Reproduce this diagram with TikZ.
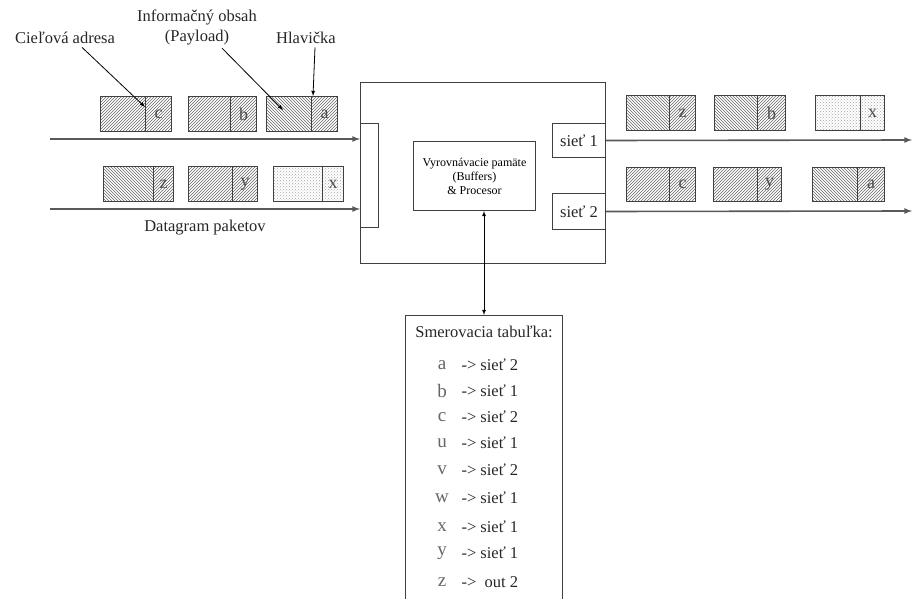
\documentclass[tikz,border=0pt]{standalone}
\usepackage{fontspec}
\setmainfont{Liberation Serif}
\usetikzlibrary{patterns}
\usetikzlibrary{shapes.geometric, arrows}

\tikzset{
  box/.style={draw=black!75, line width=1pt, inner sep=0pt, anchor=north west},
  pay/.style={box, minimum height=35pt},
  hdr/.style={box, minimum height=35pt, text=black!70, font=\fontsize{18}{18}\selectfont},
  rhatch/.style={pattern=north east lines, pattern color=black!60},
  lhatch/.style={pattern=north west lines, pattern color=black!60},
  dhatch/.style={pattern=crosshatch dots, pattern color=black!35},
  wire/.style={draw=black!65, line width=1.6pt},
  lbl/.style={font=\fontsize{16.5}{20}\selectfont, text=black!85},
  rowl/.style={font=\fontsize{19}{19}\selectfont, text=black!60},
  rowr/.style={font=\fontsize{16.5}{19}\selectfont, text=black!85, anchor=west},
}

\begin{document}
\begin{tikzpicture}[x=1pt,y=-1pt]
\path[use as bounding box, clip] (0,0) rectangle (915,599);

% labels above the incoming packets
\node[lbl] (cil) at (65,38) {Cieľová adresa};
\node[lbl, align=center] (obs) at (197,27) {Informačný obsah\\(Payload)};
\node[lbl] (hla) at (306,38) {Hlavička};
\node[lbl] (dgr) at (205,228) {Datagram paketov};

% incoming packets
\node[pay, rhatch, minimum width=45pt] (iCp) at (100,96) {};
\node[hdr, rhatch, minimum width=26pt] (iCh) at (145,96) {c};
\node[pay, rhatch, minimum width=42pt] (iBp) at (188,96) {};
\node[hdr, rhatch, minimum width=26pt] (iBh) at (230,96) {b};
\node[pay, lhatch, minimum width=45pt] (iAp) at (266,96) {};
\node[hdr, rhatch, minimum width=26pt] (iAh) at (311,96) {a};
\node[pay, lhatch, minimum width=50pt] (iZp) at (103,166) {};
\node[hdr, rhatch, minimum width=20pt] (iZh) at (153,166) {z};
\node[pay, rhatch, minimum width=44pt] (iYp) at (188,166) {};
\node[hdr, rhatch, minimum width=25pt] (iYh) at (232,166) {y};
\node[pay, dhatch, minimum width=49pt] (iXp) at (273,166) {};
\node[hdr, dhatch, minimum width=21pt] (iXh) at (322,166) {x};

% router
\node[box, minimum width=245pt, minimum height=181pt] (rtr) at (360,82) {};
\node[box, fill=white, minimum width=18pt, minimum height=104pt] (buf) at (360,123) {};
\node[box, minimum width=122pt, minimum height=69pt, align=center,
      font=\fontsize{12}{14}\selectfont] (proc) at (413,141)
      {Vyrovnávacie pamäte\\(Buffers)\\\& Procesor};
\node[box, fill=white, minimum width=53pt, minimum height=34pt, lbl] (s1) at (552,123) {sieť 1};
\node[box, fill=white, minimum width=53pt, minimum height=36pt, lbl] (s2) at (552,193) {sieť 2};

% outgoing packets
\node[pay, lhatch, minimum width=43pt] (oZp) at (626,95) {};
\node[hdr, rhatch, minimum width=26pt] (oZh) at (669,95) {z};
\node[pay, lhatch, minimum width=43pt] (oBp) at (714,95) {};
\node[hdr, rhatch, minimum width=28pt] (oBh) at (757,95) {b};
\node[pay, dhatch, minimum width=45pt] (oXp) at (815,95) {};
\node[hdr, dhatch, minimum width=24pt] (oXh) at (860,95) {x};
\node[pay, rhatch, minimum width=43pt, minimum height=34pt] (oCp) at (626,167) {};
\node[hdr, rhatch, minimum width=26pt, minimum height=34pt] (oCh) at (669,167) {c};
\node[pay, rhatch, minimum width=44pt, minimum height=34pt] (oYp) at (713,167) {};
\node[hdr, rhatch, minimum width=24pt, minimum height=34pt] (oYh) at (757,167) {y};
\node[pay, lhatch, minimum width=45pt, minimum height=34pt] (oAp) at (812,167) {};
\node[hdr, rhatch, minimum width=27pt, minimum height=34pt] (oAh) at (857,167) {a};

% routing table
\node[box, minimum width=157pt, minimum height=300pt] (tab) at (405,315) {};
\node[lbl] (ttl) at (484,332) {Smerovacia tabuľka:};
\node[rowl] (tA) at (442,365) {a};
\node[rowr] (rA) at (458,365) {->\ sieť 2};
\node[rowl] (tB) at (442,391) {b};
\node[rowr] (rB) at (458,391) {->\ sieť 1};
\node[rowl] (tC) at (442,417) {c};
\node[rowr] (rC) at (458,417) {->\ sieť 2};
\node[rowl] (tU) at (442,443) {u};
\node[rowr] (rU) at (458,443) {->\ sieť 1};
\node[rowl] (tV) at (442,470) {v};
\node[rowr] (rV) at (458,470) {->\ sieť 2};
\node[rowl] (tW) at (442,498) {w};
\node[rowr] (rW) at (458,498) {->\ sieť 1};
\node[rowl] (tX) at (442,527) {x};
\node[rowr] (rX) at (458,527) {->\ sieť 1};
\node[rowl] (tY) at (442,553) {y};
\node[rowr] (rY) at (458,553) {->\ sieť 1};
\node[rowl] (tZ) at (442,582) {z};
\node[rowr] (rZ) at (458,582) {->\ \ out 2};

% lines in and out
\coordinate (in1) at (50,139);
\coordinate (in2) at (50,209);
\coordinate (out1) at (912,140);
\coordinate (out2) at (912,211);
\draw[wire, -latex] (in1) -- (in1 -| buf.west);
\draw[wire, -latex] (in2) -- (in2 -| buf.west);
\draw[wire, -latex] (s1.east) -- (out1);
\draw[wire, -latex] (s2.east) -- (out2);

% pointers to the packet parts
\draw[thick, -latex] ([xshift=17pt]cil.south) -- ([yshift=-11pt]iCh.north west);
\draw[thick, -latex] ([xshift=25pt]obs.south) -- ([xshift=17pt,yshift=-14pt]iAp.north west);
\draw[thick, -latex] ([xshift=9pt]hla.south) -- ([xshift=2pt]iAh.north west);

% processor <-> table
\draw[thick, latex-latex] (proc.south -| tab.north) -- (tab.north);

\end{tikzpicture}
\end{document}
